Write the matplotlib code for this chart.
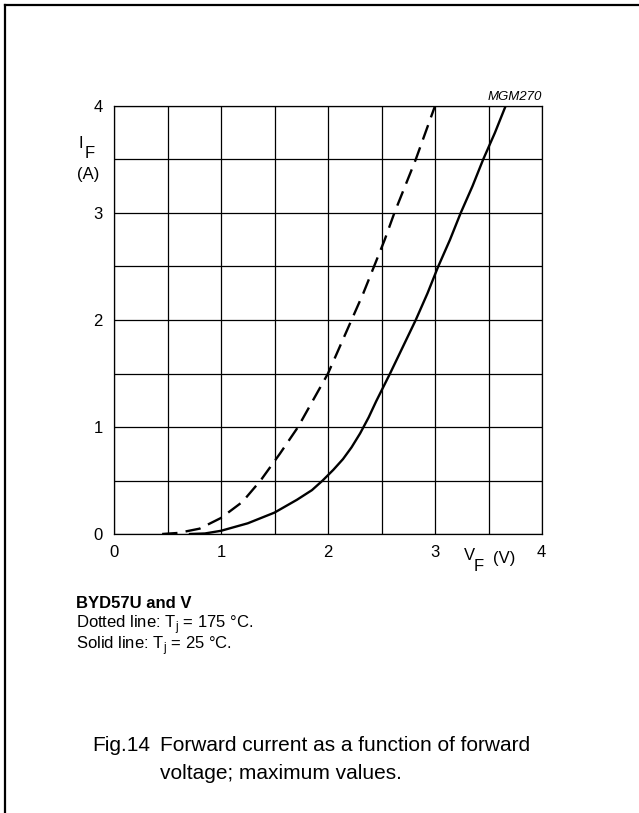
import matplotlib
matplotlib.use("Agg")
import matplotlib.pyplot as plt
from matplotlib.lines import Line2D

plt.rcParams['font.family'] = ['Liberation Sans', 'DejaVu Sans']
plt.rcParams['mathtext.fontset'] = 'custom'
plt.rcParams['mathtext.rm'] = 'Liberation Sans'

# Tj = 175 C (dashed)
vf_175 = [0.45, 0.6, 0.8, 1.0, 1.2, 1.37, 1.55, 1.72, 1.86, 2.0, 2.11, 2.22,
          2.33, 2.43, 2.53, 2.62, 2.72, 2.82, 2.91, 3.0]
if_175 = [0.0, 0.01, 0.05, 0.15, 0.3, 0.5, 0.75, 1.0, 1.25, 1.5, 1.75, 2.0,
          2.25, 2.5, 2.75, 3.0, 3.25, 3.5, 3.75, 4.0]

# Tj = 25 C (solid)
vf_25 = [0.71, 0.85, 1.0, 1.25, 1.5, 1.71, 1.85, 1.95, 2.05, 2.14, 2.22, 2.3,
         2.38, 2.45, 2.58, 2.70, 2.82, 2.93, 3.03, 3.14, 3.24, 3.35, 3.45, 3.56, 3.66]
if_25 = [0.0, 0.005, 0.03, 0.1, 0.2, 0.32, 0.41, 0.5, 0.6, 0.7, 0.81, 0.94,
         1.09, 1.24, 1.5, 1.75, 2.0, 2.25, 2.5, 2.75, 3.0, 3.25, 3.5, 3.75, 4.0]

xticks = [0, 1, 2, 3, 4]
yticks = [0, 1, 2, 3, 4]

W, H = 639, 813
fig = plt.figure(figsize=(W / 100, H / 100), dpi=100)


def px(x, y):
    # pixel position (from top-left) -> figure fraction
    return x / W, 1 - y / H


# frame round the figure (top and left edge)
fig.add_artist(Line2D([5 / W, 5 / W], [0, 1 - 5 / H], color='black', lw=1.6))
fig.add_artist(Line2D([5 / W, 1], [1 - 5 / H, 1 - 5 / H], color='black', lw=1.6))

ax = fig.add_axes([114 / W, 1 - 534 / H, 428 / W, 428 / H])
ax.set_xlim(0, 4)
ax.set_ylim(0, 4)

# grid every 0.5
for g in [i * 0.5 for i in range(9)]:
    ax.axvline(g, color='black', lw=0.9, zorder=1)
    ax.axhline(g, color='black', lw=0.9, zorder=1)
for s in ax.spines.values():
    s.set_linewidth(0.9)

ax.plot(vf_175, if_175, color='black', lw=1.7, dashes=(6.5, 3.5), zorder=3)
ax.plot(vf_25, if_25, color='black', lw=1.7, zorder=3)

ax.set_xticks(xticks)
ax.set_yticks(yticks)
ax.set_xticklabels([str(t) if t != 4 else '' for t in xticks])
ax.tick_params(length=0, labelsize=12, pad=8)

fs = 12
fig.text(*px(541, 552), '4', fontsize=fs, ha='center', va='center')
# axis labels with full-size subscripts
fig.text(*px(469, 556), 'V', fontsize=fs, ha='center', va='center')
fig.text(*px(479, 566), 'F', fontsize=fs, ha='center', va='center')
fig.text(*px(504, 558), '(V)', fontsize=fs, ha='center', va='center')
fig.text(*px(81, 144), 'I', fontsize=fs, ha='center', va='center')
fig.text(*px(90, 153), 'F', fontsize=fs, ha='center', va='center')
fig.text(*px(88, 175), '(A)', fontsize=fs, ha='center', va='center')
ax.text(4.0, 4.03, 'MGM270', fontsize=9.5, style='italic', ha='right', va='bottom')

fig.text(*px(76, 603), 'BYD57U and V', fontsize=12, fontweight='bold', va='center')
fig.text(*px(76, 625), r'Dotted line: T$_\mathrm{j}$ = 175 °C.', fontsize=12, va='center')
fig.text(*px(76, 646), r'Solid line: T$_\mathrm{j}$ = 25 °C.', fontsize=12, va='center')

fig.text(*px(92, 745), 'Fig.14', fontsize=15, va='center')
fig.text(*px(160, 745), 'Forward current as a function of forward', fontsize=15, va='center')
fig.text(*px(160, 773), 'voltage; maximum values.', fontsize=15, va='center')

fig.savefig('out.png', dpi=100)
